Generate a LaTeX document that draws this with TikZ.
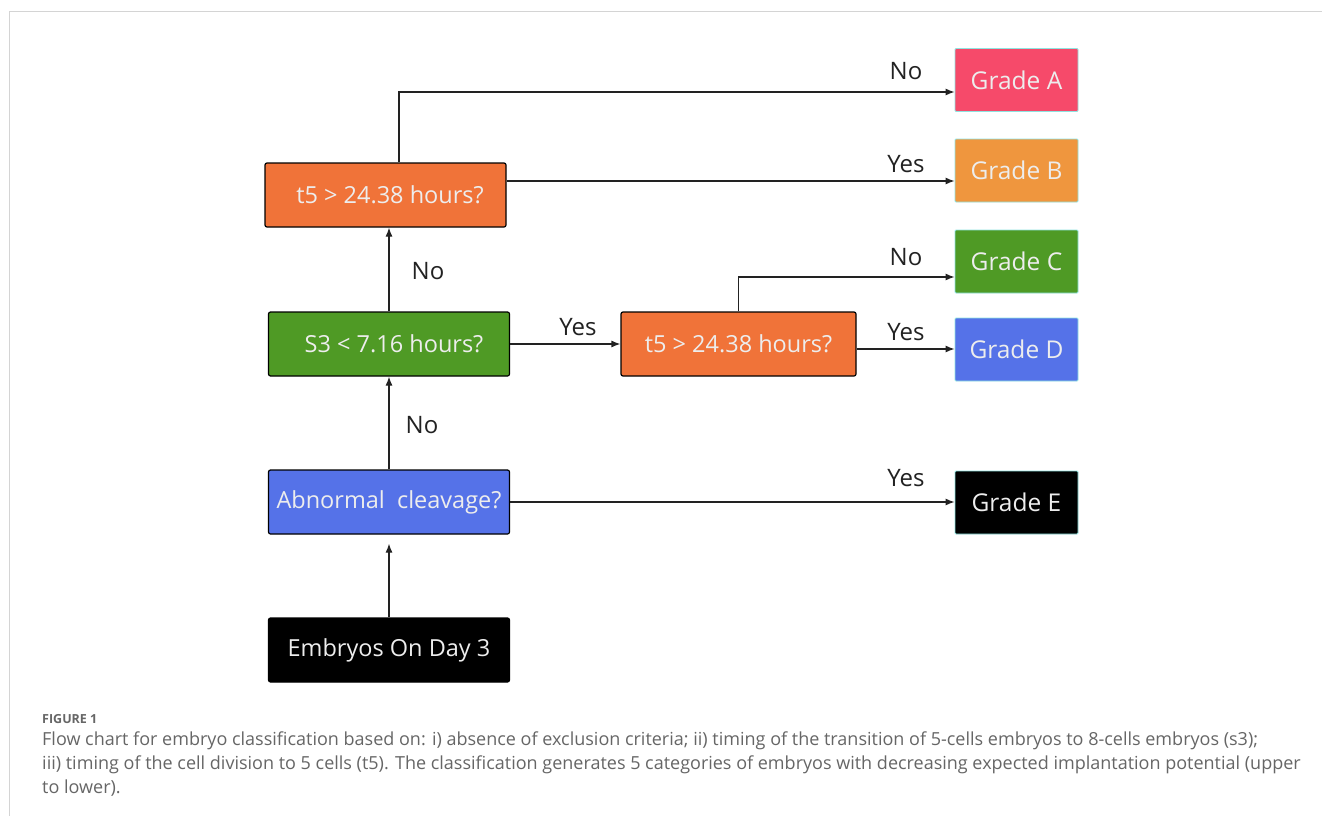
\documentclass[tikz,border=0pt]{standalone}
\usepackage{fontspec}
\setmainfont{Open Sans}
\usetikzlibrary{arrows.meta}
\definecolor{gradeA}{HTML}{F64A6A}
\definecolor{gradeB}{HTML}{EF963E}
\definecolor{greenbox}{HTML}{4F9A25}
\definecolor{bluebox}{HTML}{5572E8}
\definecolor{orangebox}{HTML}{F07339}
\definecolor{cyanedge}{HTML}{8FE3E0}
\definecolor{boxtext}{HTML}{EDEDED}
\definecolor{linecol}{HTML}{222222}
\definecolor{captext}{HTML}{666666}
\definecolor{framecol}{HTML}{D4D4D4}
\tikzset{
  decision/.style={draw=black, line width=1.2pt, rounded corners=2pt, minimum width=241pt, minimum height=64pt, text=boxtext, font=\fontsize{23.5}{27}\selectfont, inner sep=0pt},
  grade/.style={draw=cyanedge, line width=0.8pt, rounded corners=1pt, minimum width=123pt, minimum height=63pt, text=boxtext, font=\fontsize{24.5}{28}\selectfont, inner sep=0pt},
  arr/.style={draw=linecol, line width=1.2pt, -{Latex[length=9pt,width=7pt]}},
  lab/.style={text=linecol, font=\fontsize{24}{28}\selectfont, inner sep=0pt},
  capline/.style={anchor=base west, text=captext, font=\fontsize{18}{24}\selectfont, inner sep=0pt}
}
\begin{document}
\begin{tikzpicture}[x=1pt,y=-1pt]
\useasboundingbox (0,0) rectangle (1322,816);
\fill[white] (0,0) rectangle (1322,816);
\draw[framecol, line width=1pt] (9,816) -- (9,12) -- (1322,12);

% grade boxes
\node[grade, fill=gradeA] (ga) at (1016.5,80) {Grade A};
\node[grade, fill=gradeB] (gb) at (1016.5,170.5) {Grade B};
\node[grade, fill=greenbox] (gc) at (1016.5,261.5) {Grade C};
\node[grade, fill=bluebox] (gd) at (1016.5,349.5) {Grade D};
\node[grade, fill=black] (ge) at (1016.5,502.5) {Grade E};

% decision boxes
\node[decision, fill=orangebox] (t5a) at (385.5,195) {\hspace{9pt}t5 > 24.38 hours?};
\node[decision, fill=greenbox] (s3) at (389,344) {\hspace{10pt}S3 < 7.16 hours?};
\node[decision, fill=orangebox, minimum width=235pt] (t5b) at (738.5,344) {t5 > 24.38 hours?\hspace{12pt}};
\node[decision, fill=bluebox] (ab) at (389,502) {Abnormal\ \ cleavage?};
\node[decision, fill=black] (em) at (389,650) {Embryos On Day 3};

% connectors
\draw[arr, shorten >=9pt] (em.north) -- (ab.south);
\draw[arr] (ab.north) -- (s3.south);
\draw[arr] (s3.north) -- (s3.north |- t5a.south);
\draw[arr] (t5a.north -| 399,0) |- (ga.west |- 0,92);
\draw[arr] (t5a.east |- 0,181) -- (gb.west |- 0,181);
\draw[arr] (s3.east) -- (t5b.west);
\draw[arr] (t5b.north) |- (gc.west |- 0,277);
\draw[arr] (t5b.east |- 0,349) -- (gd.west |- 0,349);
\draw[arr] (ab.east) -- (ge.west |- ab.east);

% labels
\node[lab] (l1) at (906,71) {No};
\node[lab] (l2) at (906,164) {Yes};
\node[lab] (l3) at (906,257) {No};
\node[lab] (l4) at (906,332) {Yes};
\node[lab] (l5) at (906,478) {Yes};
\node[lab] (l6) at (578,327) {Yes};
\node[lab] (l7) at (428,271) {No};
\node[lab] (l8) at (422,425) {No};

% caption
\node[anchor=base west, text=captext, font=\bfseries\fontsize{12.5}{14}\selectfont, inner sep=0pt] (fig) at (42,723) {FIGURE 1};
\node[capline] (cap1) at (42,745) {Flow chart for embryo classification based on: i) absence of exclusion criteria; ii) timing of the transition of 5-cells embryos to 8-cells embryos (s3);};
\node[capline] (cap2) at (42,769) {iii) timing of the cell division to 5 cells (t5). The classification generates 5 categories of embryos with decreasing expected implantation potential (upper};
\node[capline] (cap3) at (42,793) {to lower).};
\end{tikzpicture}
\end{document}
